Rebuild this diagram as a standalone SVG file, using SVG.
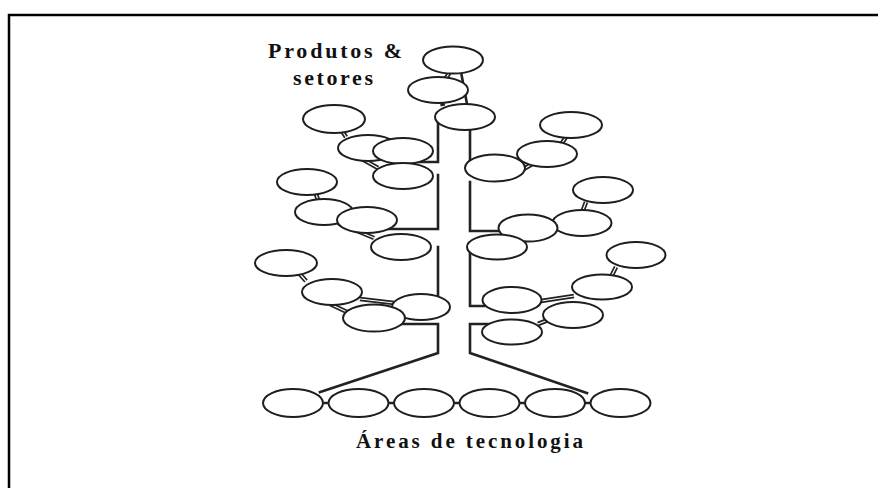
<svg xmlns="http://www.w3.org/2000/svg" width="878" height="488" viewBox="0 0 878 488">
<style>
.n{fill:#fff;stroke:#1e1e1e;stroke-width:2}
.t{fill:none;stroke:#222;stroke-width:2.6;stroke-linecap:square}
.d1{fill:none;stroke:#222;stroke-width:4.6}
.d2{fill:none;stroke:#fff;stroke-width:1.2}
.lbl{font-family:"Liberation Serif","Times New Roman",serif;font-weight:bold;fill:#111}
</style>
<rect x="9" y="15" width="900" height="500" fill="#fff" stroke="#000" stroke-width="2.5"/>
<g id="connectors">
<polyline class="t" points="438,123 438,162 419,162"/>
<polyline class="t" points="438,175 438,229 386,229"/>
<polyline class="t" points="438,247 438,300"/>
<polyline class="t" points="402,324 438,324 438,353 320,392"/>
<polyline class="t" points="470,130 470,168"/>
<polyline class="t" points="470,182 470,231 500,231"/>
<polyline class="t" points="470,252 470,306 484,306"/>
<polyline class="t" points="488,324 470,324 470,353 587,393"/>
<line class="t" x1="461" y1="72" x2="467" y2="104" stroke-width="2"/>
<g id="dbl">
<path class="d1" d="M450,72 L446,78 M342,131 L346,137 M362,159 L378,168 M316,194 L318,200 M338,223 L374,238 M298,272 L306,281 M360,299 L394,303 M330,304 L347,312 M586,202 L583,210 M616,267 L612,275 M541,301 L574,296 M538,324 L548,320 M522,170 L534,163 M566,137 L562,143 M442,102 L443,106"/>
<path class="d2" d="M450,72 L446,78 M342,131 L346,137 M362,159 L378,168 M316,194 L318,200 M338,223 L374,238 M298,272 L306,281 M360,299 L394,303 M330,304 L347,312 M586,202 L583,210 M616,267 L612,275 M541,301 L574,296 M538,324 L548,320 M522,170 L534,163 M566,137 L562,143"/>
</g>
<path class="t" stroke-width="2" d="M322,403 L329,403 M388,403 L394,403 M453,403 L460,403 M519,403 L525,403 M585,403 L591,403"/>
</g>
<g id="top1"><ellipse class="n" cx="453" cy="60" rx="30" ry="13.5"/></g>
<g id="top2"><ellipse class="n" cx="438" cy="90" rx="30" ry="13"/></g>
<g id="top3"><ellipse class="n" cx="465" cy="117" rx="30" ry="13"/></g>
<g id="A"><ellipse class="n" cx="334" cy="119" rx="31" ry="14"/></g>
<g id="B"><ellipse class="n" cx="368" cy="148" rx="30" ry="13"/></g>
<g id="C"><ellipse class="n" cx="403" cy="151" rx="30" ry="13"/></g>
<g id="D"><ellipse class="n" cx="403" cy="176" rx="30" ry="13"/></g>
<g id="F"><ellipse class="n" cx="307" cy="182" rx="30" ry="13"/></g>
<g id="G"><ellipse class="n" cx="324" cy="212" rx="29" ry="13"/></g>
<g id="H"><ellipse class="n" cx="367" cy="220" rx="30" ry="13"/></g>
<g id="I"><ellipse class="n" cx="401" cy="247" rx="30" ry="13"/></g>
<g id="J"><ellipse class="n" cx="286" cy="263" rx="31" ry="13"/></g>
<g id="K"><ellipse class="n" cx="332" cy="292" rx="30" ry="13"/></g>
<g id="L"><ellipse class="n" cx="421" cy="307" rx="29" ry="13"/></g>
<g id="M"><ellipse class="n" cx="374" cy="318" rx="31" ry="13.5"/></g>
<g id="R1"><ellipse class="n" cx="571" cy="125" rx="31" ry="13"/></g>
<g id="O"><ellipse class="n" cx="547" cy="154" rx="30" ry="13"/></g>
<g id="N"><ellipse class="n" cx="495" cy="168" rx="30" ry="13.5"/></g>
<g id="R"><ellipse class="n" cx="603" cy="190" rx="30" ry="13"/></g>
<g id="Q"><ellipse class="n" cx="582" cy="223" rx="29.5" ry="13"/></g>
<g id="P"><ellipse class="n" cx="528" cy="228" rx="29.5" ry="13.5"/></g>
<g id="S"><ellipse class="n" cx="497" cy="247" rx="30" ry="12.5"/></g>
<g id="V"><ellipse class="n" cx="636" cy="255" rx="29.5" ry="13"/></g>
<g id="U"><ellipse class="n" cx="602" cy="287" rx="30" ry="12.5"/></g>
<g id="T"><ellipse class="n" cx="512" cy="300" rx="29.5" ry="13"/></g>
<g id="W"><ellipse class="n" cx="573" cy="315" rx="30" ry="13"/></g>
<g id="X"><ellipse class="n" cx="512" cy="332" rx="30" ry="12.5"/></g>
<g id="b1"><ellipse class="n" cx="293" cy="403" rx="30" ry="14"/></g>
<g id="b2"><ellipse class="n" cx="358.5" cy="403" rx="30" ry="14"/></g>
<g id="b3"><ellipse class="n" cx="424" cy="403" rx="30" ry="14"/></g>
<g id="b4"><ellipse class="n" cx="489.5" cy="403" rx="30" ry="14"/></g>
<g id="b5"><ellipse class="n" cx="555" cy="403" rx="30" ry="14"/></g>
<g id="b6"><ellipse class="n" cx="620.5" cy="403" rx="30" ry="14"/></g>
<g id="labels">
<text class="lbl" x="268" y="58" font-size="22" textLength="134" lengthAdjust="spacing">Produtos &amp;</text>
<text class="lbl" x="293" y="85" font-size="22" textLength="80" lengthAdjust="spacing">setores</text>
<text class="lbl" x="356" y="448" font-size="21" textLength="227" lengthAdjust="spacing">Áreas de tecnologia</text>
</g>
</svg>
